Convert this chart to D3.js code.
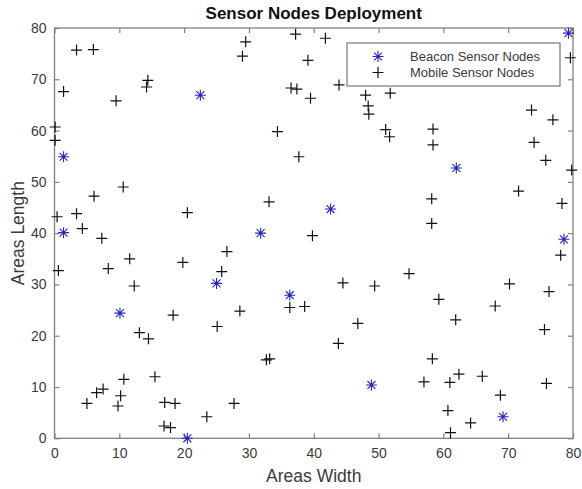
<!DOCTYPE html>
<html><head><meta charset="utf-8">
<script src="https://cdn.jsdelivr.net/npm/d3@7"></script>
<style>body{margin:0;background:#fff}svg{display:block;font-family:"Liberation Sans",Arial,sans-serif}</style>
</head><body>
<svg id="c" width="582" height="489"></svg>
<script>
const title = "Sensor Nodes Deployment";
const xLabel = "Areas Width";
const yLabel = "Areas Length";
const legendLabels = ["Beacon Sensor Nodes", "Mobile Sensor Nodes"];
const xTicks = [0,10,20,30,40,50,60,70,80];
const yTicks = [0,10,20,30,40,50,60,70,80];
const beaconX = [79.3,22.5,1.4,1.4,62.0,42.6,31.8,78.6,36.3,25.0,10.1,48.9,69.2,20.5];
const beaconY = [79.0,66.9,54.9,40.1,52.7,44.7,40.0,38.8,27.9,30.2,24.4,10.4,4.2,0.0];
const mobileX = [3.4,6.0,14.4,14.2,1.4,9.5,0.1,0.1,
  29.5,29.0,37.2,41.8,39.1,36.5,37.4,39.5,43.9,48.0,48.4,48.5,51.8,51.1,51.7,34.4,37.7,
  79.6,73.6,76.9,58.4,58.4,74.0,75.8,79.8,71.6,58.2,78.3,58.2,78.1,
  10.6,6.1,0.4,3.4,20.5,4.3,7.3,33.1,11.6,19.8,26.6,25.8,0.6,8.3,39.8,
  12.3,18.3,25.1,13.1,14.5,10.7,15.5,7.5,6.5,5.0,10.2,9.8,17.0,18.6,23.5,16.9,17.9,
  28.6,36.3,38.6,44.5,49.4,46.8,43.8,32.7,33.2,27.7,
  54.7,70.2,76.3,59.3,68.0,61.9,75.6,58.3,62.4,66.0,57.0,61.0,75.9,68.8,60.7,64.2,61.1];
const mobileY = [75.7,75.8,69.8,68.5,67.6,65.8,60.7,58.1,
  77.3,74.5,78.8,78.0,73.7,68.3,68.1,66.3,68.9,66.9,64.8,63.2,67.3,60.2,58.8,59.8,54.9,
  74.2,64.0,62.1,60.3,57.2,57.7,54.2,52.3,48.2,46.7,45.8,41.9,35.7,
  49.0,47.2,43.2,43.8,44.0,40.9,39.0,46.1,35.0,34.3,36.4,32.5,32.7,33.1,39.5,
  29.7,24.0,21.8,20.6,19.4,11.5,12.0,9.6,8.9,6.8,8.3,6.3,7.0,6.8,4.2,2.4,2.1,
  24.8,25.5,25.7,30.3,29.7,22.4,18.5,15.3,15.5,6.8,
  32.1,30.1,28.6,27.1,25.8,23.1,21.2,15.5,12.5,12.1,11.0,10.9,10.7,8.4,5.4,3.0,1.1];

const L = 54.5, R = 573, T = 28, B = 438.3;
const svg = d3.select("#c");
const x = d3.scaleLinear().domain([0,80]).range([L,R]);
const y = d3.scaleLinear().domain([0,80]).range([B,T]);
const axisCol = "#808080", textCol = "#3a3a3a";

svg.append("rect").attr("x",L).attr("y",T).attr("width",R-L).attr("height",B-T)
  .attr("fill","#fff").attr("stroke",axisCol).attr("stroke-width",1.3);

const gx = svg.append("g").attr("transform",`translate(0,${B})`)
  .call(d3.axisBottom(x).tickValues(xTicks).tickSize(-5).tickPadding(10).tickFormat(d3.format("d")));
const gxt = svg.append("g").attr("transform",`translate(0,${T})`)
  .call(d3.axisTop(x).tickValues(xTicks).tickSize(-5).tickFormat(""));
const gy = svg.append("g").attr("transform",`translate(${L},0)`)
  .call(d3.axisLeft(y).tickValues(yTicks).tickSize(-5).tickPadding(8).tickFormat(d3.format("d")));
const gyr = svg.append("g").attr("transform",`translate(${R},0)`)
  .call(d3.axisRight(y).tickValues(yTicks).tickSize(-5).tickFormat(""));
[gx,gxt,gy,gyr].forEach(g=>{
  g.select(".domain").remove();
  g.selectAll(".tick line").attr("stroke",axisCol).attr("stroke-width",1.2);
  g.selectAll("text").attr("fill",textCol).style("font-size","14px").style("font-family","Liberation Sans, Arial, sans-serif");
});

const ms = 5.5;
svg.append("g").selectAll("path").data(d3.range(mobileX.length)).join("path")
  .attr("d", i => { const cx=x(mobileX[i]), cy=y(mobileY[i]);
    return `M${cx-ms},${cy}H${cx+ms}M${cx},${cy-ms}V${cy+ms}`; })
  .attr("stroke","#111").attr("stroke-width",1.2).attr("fill","none");

function star(cx,cy,s){ const d=s*0.72;
  return `M${cx-s},${cy}H${cx+s}M${cx},${cy-s}V${cy+s}M${cx-d},${cy-d}L${cx+d},${cy+d}M${cx-d},${cy+d}L${cx+d},${cy-d}`; }
svg.append("g").selectAll("path").data(d3.range(beaconX.length)).join("path")
  .attr("d", i => star(x(beaconX[i]), y(beaconY[i]), 5.5))
  .attr("stroke","#2323c8").attr("stroke-width",1.1).attr("fill","none");

const lg = svg.append("g");
lg.append("rect").attr("x",347).attr("y",43).attr("width",213).attr("height",43)
  .attr("fill","#fff").attr("stroke",axisCol).attr("stroke-width",1.3);
lg.append("path").attr("d",star(378,56.5,5.5)).attr("stroke","#2323c8").attr("stroke-width",1.1).attr("fill","none");
lg.append("path").attr("d",`M${378-ms},72.5H${378+ms}M378,${72.5-ms}V${72.5+ms}`).attr("stroke","#111").attr("stroke-width",1.2);
legendLabels.forEach((t,i)=>lg.append("text").attr("x",410).attr("y",56.5+i*16).attr("dy","0.35em")
  .attr("fill",textCol).style("font-size","13px").text(t));

svg.append("text").attr("x",(L+R)/2).attr("y",19).attr("text-anchor","middle")
  .style("font-size","17px").style("font-weight","bold").attr("fill","#111").text(title);
svg.append("text").attr("x",(L+R)/2).attr("y",482).attr("text-anchor","middle")
  .style("font-size","17.5px").attr("fill",textCol).text(xLabel);
svg.append("text").attr("transform",`translate(24,${(T+B)/2}) rotate(-90)`).attr("text-anchor","middle")
  .style("font-size","17.5px").attr("fill",textCol).text(yLabel);
</script>
</body></html>
